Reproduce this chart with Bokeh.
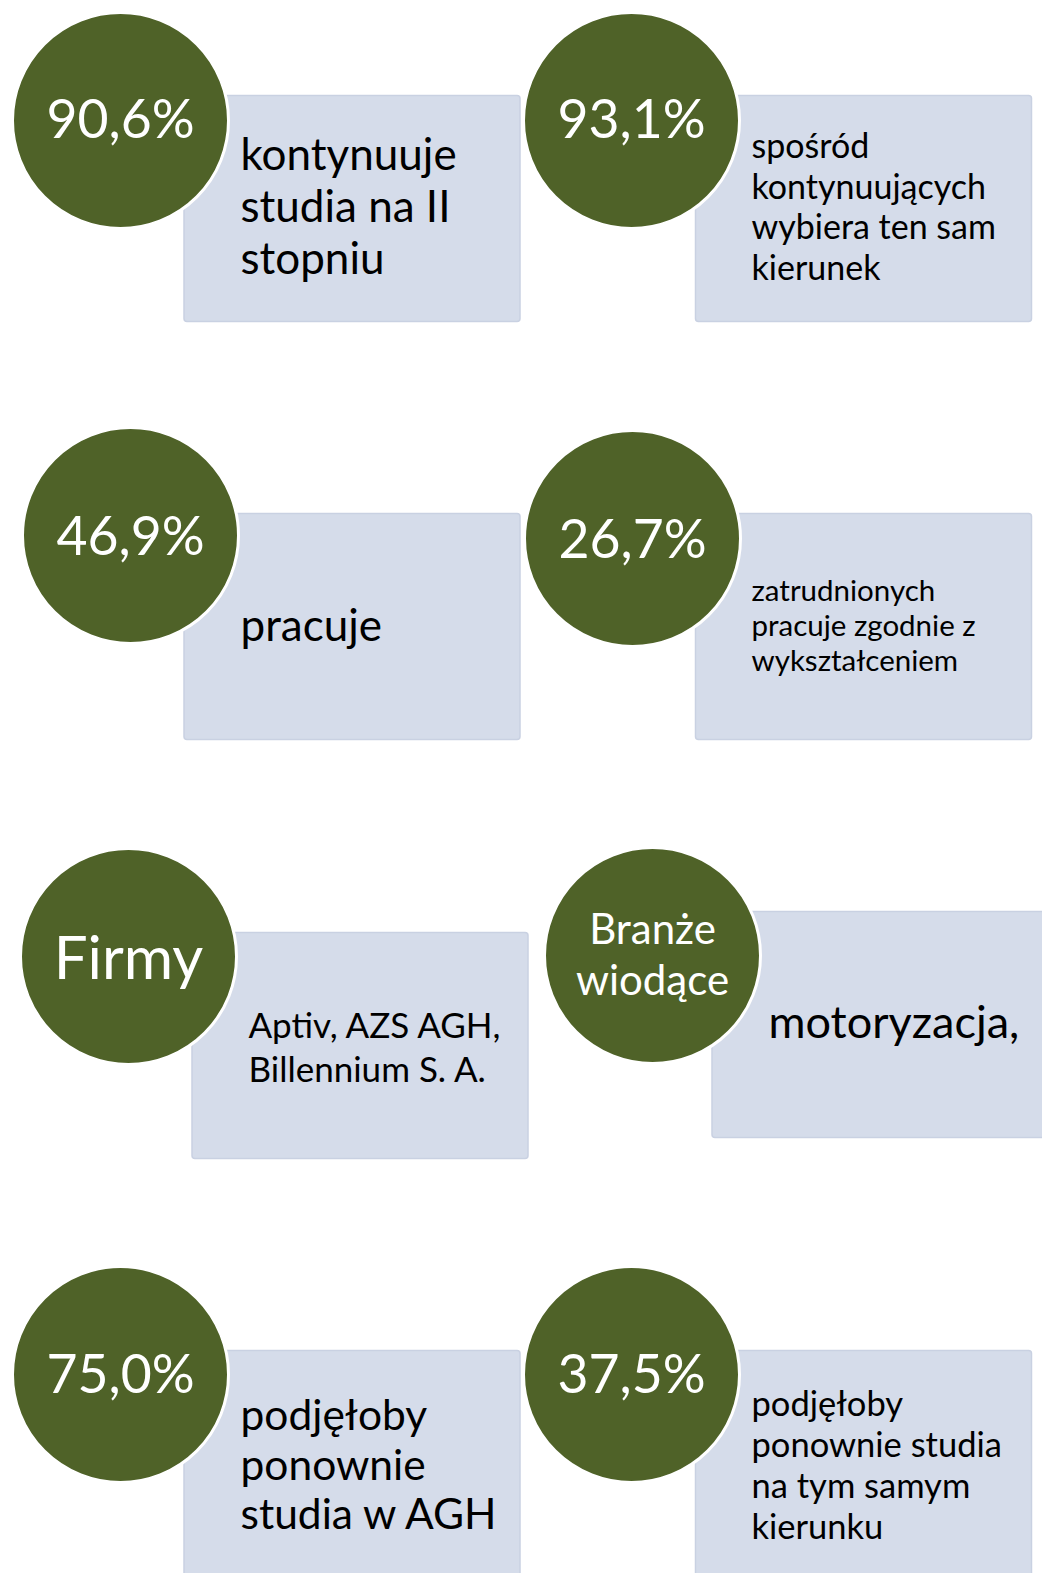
from bokeh.plotting import figure
from bokeh.models import ColumnDataSource, Range1d
from bokeh.core.properties import value
from bokeh.embed import file_html
from bokeh.resources import INLINE

# ---- data (content of the infographic) ----
badges = ["90,6%", "93,1%", "46,9%", "26,7%", "Firmy", "Branże\nwiodące", "75,0%", "37,5%"]
descriptions = [
    "kontynuuje\nstudia na II\nstopniu",
    "spośród\nkontynuujących\nwybiera ten sam\nkierunek",
    "pracuje",
    "zatrudnionych\npracuje zgodnie z\nwykształceniem",
    "Aptiv, AZS AGH,\nBillennium S. A.",
    "motoryzacja,",
    "podjęłoby\nponownie\nstudia w AGH",
    "podjęłoby\nponownie studia\nna tym samym\nkierunku",
]

# ---- layout / style (page pixel coordinates; ty/by are text baselines) ----
layout = [
    dict(cx=120, cy=120, bl=183.5, bt=95, tx=240, ty=169, ts=52, fs=44, bf=53.5, by=136, bs=0),
    dict(cx=631, cy=120, bl=695, bt=95, tx=751, ty=157, ts=40.5, fs=34, bf=53.5, by=136, bs=0),
    dict(cx=130, cy=535, bl=183.5, bt=513, tx=240, ty=640, ts=0, fs=44, bf=53.5, by=553, bs=0),
    dict(cx=632, cy=538, bl=695, bt=513, tx=751, ty=600, ts=35, fs=29.5, bf=53.5, by=556, bs=0),
    dict(cx=128, cy=956, bl=191.5, bt=932, tx=248, ty=1036, ts=44.5, fs=35, bf=60, by=978, bs=0),
    dict(cx=652, cy=955, bl=711.5, bt=911, tx=768, ty=1037, ts=0, fs=45, bf=42, by=943, bs=51),
    dict(cx=120, cy=1374, bl=183.5, bt=1350, tx=240, ty=1429, ts=49.5, fs=42.5, bf=53.5, by=1391, bs=0),
    dict(cx=631, cy=1374, bl=695, bt=1350, tx=751, ty=1415, ts=41, fs=34.5, bf=53.5, by=1391, bs=0),
]
BASELINE_FIX = 0.37   # renderer places alphabetic baseline this many em lower
BOX_W, BOX_H = 336, 226
R = 108
GREEN = "#4F6228"
BOX = "#D5DCEA"
BOX_EDGE = "#C9D1E2"
FONT = "Lato"

circ = dict(x=[], y=[])
box = dict(left=[], right=[], top=[], bottom=[])
btxt = dict(x=[], y=[], text=[], size=[])
dtxt = dict(x=[], y=[], text=[], size=[])
for lab, desc, L in zip(badges, descriptions, layout):
    circ["x"].append(L["cx"]); circ["y"].append(L["cy"])
    box["left"].append(L["bl"]); box["right"].append(L["bl"] + BOX_W)
    box["top"].append(L["bt"]); box["bottom"].append(L["bt"] + BOX_H)
    for i, line in enumerate(lab.split("\n")):
        btxt["x"].append(L["cx"])
        btxt["y"].append(L["by"] + i * L["bs"] - BASELINE_FIX * L["bf"])
        btxt["text"].append(line); btxt["size"].append(f"{L['bf']}px")
    for i, line in enumerate(desc.split("\n")):
        dtxt["x"].append(L["tx"])
        dtxt["y"].append(L["ty"] + i * L["ts"] - BASELINE_FIX * L["fs"])
        dtxt["text"].append(line); dtxt["size"].append(f"{L['fs']}px")

p = figure(width=1042, height=1573, output_backend="svg", toolbar_location=None,
           x_range=Range1d(0, 1042), y_range=Range1d(1573, 0),
           min_border=0, background_fill_color="white", border_fill_color="white")
p.axis.visible = False
p.grid.visible = False
p.outline_line_color = None

p.quad(source=ColumnDataSource(box), left="left", right="right", top="top", bottom="bottom",
       fill_color=BOX, line_color=BOX_EDGE, line_width=1.5, border_radius=3)
p.circle(source=ColumnDataSource(circ), x="x", y="y", radius=R,
         fill_color=GREEN, line_color="white", line_width=3)
p.text(source=ColumnDataSource(btxt), x="x", y="y", text="text", text_font_size="size",
       text_color="white", text_align="center", text_baseline="alphabetic",
       text_font=value(FONT))
p.text(source=ColumnDataSource(dtxt), x="x", y="y", text="text", text_font_size="size",
       text_color="black", text_align="left", text_baseline="alphabetic",
       text_font=value(FONT))

open("out.html", "w").write(file_html(p, INLINE))
